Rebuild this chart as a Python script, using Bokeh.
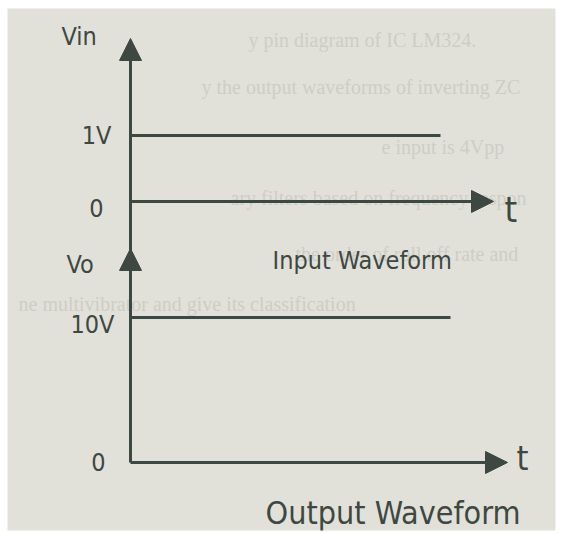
from bokeh.plotting import figure
from bokeh.models import Range1d, Arrow, NormalHead
from bokeh.core.properties import value
from bokeh.embed import file_html
from bokeh.resources import INLINE

# Signal levels (volts) and time spans (arbitrary units)
input_level = [1, 1]
input_time = [0, 3.1]
output_level = [10, 10]
output_time = [0, 3.2]

vin_ticks = [0, 1]
vin_tick_labels = ["0", "1V"]
vo_ticks = [0, 10]
vo_tick_labels = ["0", "10V"]

INK = "#3d4842"
PAPER = "#e2e1d9"
FAINT = "#cecdc5"
HAND = value("DejaVu Sans Condensed")

p = figure(width=563, height=533, output_backend="svg", toolbar_location=None,
           x_range=Range1d(-1.23, 4.25), y_range=Range1d(-4.985, 2.924),
           x_axis_location=None, y_axis_location=None,
           min_border_left=7, min_border_right=8, min_border_top=8, min_border_bottom=3,
           background_fill_color=PAPER, border_fill_color="white",
           outline_line_color=None)
p.grid.visible = False
p.extra_y_ranges = {"vo": Range1d(-4.69, 31.31)}

# faint print showing through from the page behind
bleed = [
    (1.18, 2.45, "y pin diagram of IC LM324."),
    (0.71, 1.73, "y the output waveforms of inverting ZC"),
    (2.51, 0.83, "e input is 4Vpp"),
    (1.0, 0.06, "ary filters based on frequency respon"),
    (1.65, -0.80, "the order of roll off rate and"),
    (-1.12, -1.55, "ne multivibrator and give its classification"),
]
p.text(x=[b[0] for b in bleed], y=[b[1] for b in bleed], text=[b[2] for b in bleed],
       text_font=value("Liberation Serif"), text_font_size="20px",
       text_color=FAINT, text_baseline="middle")

# input waveform axes
p.add_layout(Arrow(end=NormalHead(size=22, fill_color=INK, line_color=INK),
                   x_start=0, y_start=-0.74, x_end=0, y_end=2.47,
                   line_color=INK, line_width=3))
p.add_layout(Arrow(end=NormalHead(size=22, fill_color=INK, line_color=INK),
                   x_start=0, y_start=0, x_end=3.63, y_end=0,
                   line_color=INK, line_width=3))
p.line(input_time, input_level, line_color=INK, line_width=3)

# output waveform axes
p.add_layout(Arrow(end=NormalHead(size=22, fill_color=INK, line_color=INK),
                   x_start=0, y_start=0, x_end=0, y_end=14.76,
                   line_color=INK, line_width=3, y_range_name="vo"))
p.add_layout(Arrow(end=NormalHead(size=22, fill_color=INK, line_color=INK),
                   x_start=0, y_start=0, x_end=3.77, y_end=0,
                   line_color=INK, line_width=3, y_range_name="vo"))
p.line(output_time, output_level, line_color=INK, line_width=3, y_range_name="vo")

# axis annotations
p.text(x=[-0.19, -0.27], y=[vin_ticks[1], vin_ticks[0] - 0.1],
       text=[vin_tick_labels[1], vin_tick_labels[0]],
       text_font=HAND, text_font_size="25px", text_color=INK,
       text_align="right", text_baseline="middle")
p.text(x=[-0.16, -0.25], y=[vo_ticks[1] - 0.5, vo_ticks[0]],
       text=[vo_tick_labels[1], vo_tick_labels[0]],
       text_font=HAND, text_font_size="25px", text_color=INK,
       text_align="right", text_baseline="middle", y_range_name="vo")
p.text(x=[-0.69], y=[2.5], text=["Vin"], text_font=HAND, text_font_size="25px",
       text_color=INK, text_baseline="middle")
p.text(x=[-0.64], y=[13.66], text=["Vo"], text_font=HAND, text_font_size="25px",
       text_color=INK, text_baseline="middle", y_range_name="vo")
p.text(x=[3.74], y=[-0.12], text=["t"], text_font=HAND, text_font_size="36px",
       text_color=INK, text_baseline="middle")
p.text(x=[3.86], y=[0.3], text=["t"], text_font=HAND, text_font_size="34px",
       text_color=INK, text_baseline="middle", y_range_name="vo")

# captions
p.text(x=[1.42], y=[-0.9], text=["Input Waveform"], text_font=HAND,
       text_font_size="25px", text_color=INK, text_baseline="middle")
p.text(x=[1.35], y=[-3.45], text=["Output Waveform"], text_font=HAND,
       text_font_size="32px", text_color=INK, text_baseline="middle",
       y_range_name="vo")

open("out.html", "w").write(file_html(p, INLINE))
